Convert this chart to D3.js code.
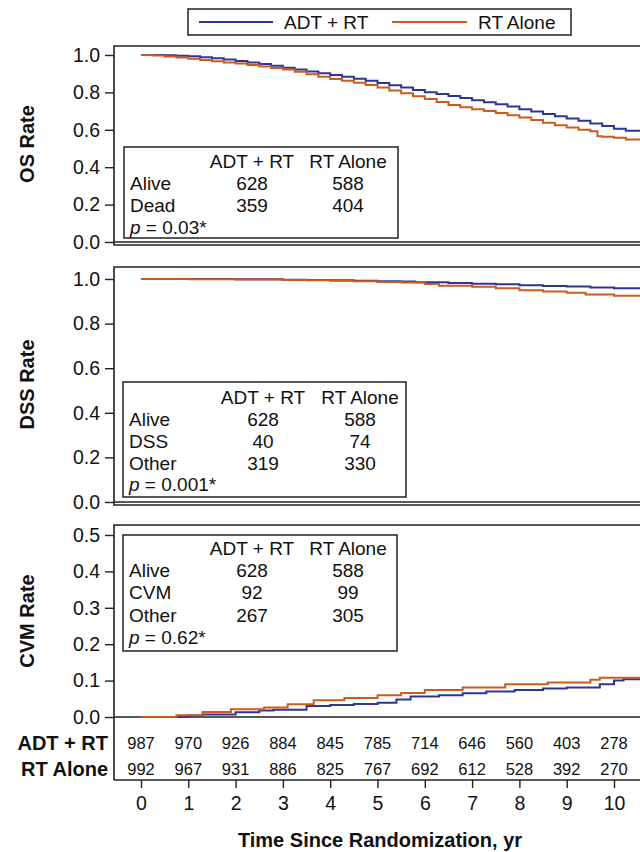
<!DOCTYPE html>
<html><head><meta charset="utf-8">
<script src="https://cdn.jsdelivr.net/npm/d3@7"></script>
<style>body{margin:0;background:#fff}svg{display:block}text{font-family:"Liberation Sans",Arial,sans-serif;fill:#111}</style>
</head><body><svg id="c" width="640" height="852"></svg>
<script>
// ---------- data ----------
const seriesNames = ["ADT + RT", "RT Alone"];
const years = [0,1,2,3,4,5,6,7,8,9,10];
const riskADT = [987,970,926,884,845,785,714,646,560,403,278];
const riskRT  = [992,967,931,886,825,767,692,612,528,392,270];

const osADT = [[0,1],[0.25,1],[0.5,0.998],[0.75,0.996],[1,0.993],[1.25,0.988],[1.5,0.982],[1.75,0.976],[2,0.968],[2.25,0.96],[2.5,0.952],[2.75,0.942],[3,0.932],[3.25,0.922],[3.5,0.912],[3.75,0.903],[4,0.893],[4.25,0.884],[4.5,0.873],[4.75,0.862],[5,0.85],[5.25,0.838],[5.5,0.826],[5.75,0.813],[6,0.801],[6.25,0.791],[6.5,0.781],[6.75,0.77],[7,0.758],[7.25,0.747],[7.5,0.736],[7.75,0.724],[8,0.71],[8.25,0.698],[8.5,0.685],[8.75,0.672],[9,0.66],[9.25,0.648],[9.5,0.634],[9.75,0.62],[10,0.605],[10.25,0.595],[10.6,0.585]];
const osRT = [[0,1],[0.25,0.997],[0.5,0.992],[0.75,0.986],[1,0.98],[1.25,0.973],[1.5,0.966],[1.75,0.96],[2,0.954],[2.25,0.946],[2.5,0.938],[2.75,0.93],[3,0.922],[3.25,0.91],[3.5,0.897],[3.75,0.884],[4,0.872],[4.25,0.862],[4.5,0.852],[4.75,0.84],[5,0.826],[5.25,0.81],[5.5,0.795],[5.75,0.78],[6,0.765],[6.25,0.748],[6.5,0.733],[6.75,0.72],[7,0.71],[7.25,0.7],[7.5,0.69],[7.75,0.678],[8,0.666],[8.25,0.652],[8.5,0.638],[8.75,0.624],[9,0.612],[9.25,0.6],[9.5,0.592],[9.65,0.566],[9.75,0.563],[10,0.558],[10.25,0.548],[10.6,0.537]];

const dssADT = [[0,1],[1,1],[2,0.999],[3,0.997],[3.5,0.995],[4,0.994],[4.5,0.992],[5,0.99],[5.5,0.989],[5.8,0.985],[6.5,0.982],[7,0.979],[7.5,0.976],[8,0.972],[8.5,0.969],[9,0.966],[9.5,0.962],[10,0.958],[10.6,0.955]];
const dssRT  = [[0,1],[1,0.999],[2,0.998],[3,0.996],[3.5,0.994],[4,0.992],[4.5,0.99],[5,0.987],[5.5,0.984],[6,0.978],[6.3,0.97],[7,0.965],[7.5,0.958],[8,0.95],[8.5,0.944],[9,0.938],[9.4,0.93],[10,0.925],[10.6,0.92]];

const cvmADT = [[0,0],[0.6,0],[1,0.004],[1.3,0.007],[2,0.013],[2.5,0.018],[2.8,0.02],[3.5,0.03],[4,0.033],[4.5,0.036],[5,0.039],[5.4,0.048],[5.7,0.056],[6.3,0.06],[6.8,0.065],[7.3,0.07],[7.9,0.074],[8.5,0.078],[9,0.081],[9.7,0.09],[10,0.1],[10.2,0.104],[10.6,0.108]];
const cvmRT  = [[0,0],[0.1,0],[0.75,0.005],[1.3,0.014],[1.9,0.021],[2.6,0.026],[3.1,0.035],[3.65,0.046],[4.3,0.052],[5,0.06],[5.5,0.066],[6,0.074],[6.8,0.081],[7.7,0.09],[8.6,0.095],[9.5,0.102],[9.7,0.108],[10.6,0.111]];

const osRows = ["Alive","Dead"],            osCountADT = [628,359],   osCountRT = [588,404],   osP = "0.03*";
const dssRows = ["Alive","DSS","Other"],    dssCountADT = [628,40,319], dssCountRT = [588,74,330], dssP = "0.001*";
const cvmRows = ["Alive","CVM","Other"],    cvmCountADT = [628,92,267], cvmCountRT = [588,99,305], cvmP = "0.62*";

const osTicks  = [0,0.2,0.4,0.6,0.8,1.0];
const dssTicks = [0,0.2,0.4,0.6,0.8,1.0];
const cvmTicks = [0,0.1,0.2,0.3,0.4,0.5];
const yTitles = ["OS Rate","DSS Rate","CVM Rate"];
const xTitle = "Time Since Randomization, yr";

// ---------- layout ----------
const colors = ["#2f3495", "#cd5b1d"];
const svg = d3.select("#c");
const axisX = 114, rightX = 660;
const x = d3.scaleLinear().domain([0,10]).range([141,614]);

const panels = [
  {top:46,  zero:242, maxV:1.0, maxY:55,  ticks:osTicks,  fmt:d3.format(".1f"), data:[osADT,osRT], title:yTitles[0], frameBottom:245,
   box:{x:124,y:147,w:274,h:91,c1:252,c2:348,head:161,row0:183,step:22.5}, rows:osRows, a:osCountADT, b:osCountRT, p:osP},
  {top:267, zero:502, maxV:1.0, maxY:279, ticks:dssTicks, fmt:d3.format(".1f"), data:[dssADT,dssRT], title:yTitles[1], frameBottom:505,
   box:{x:123,y:382,w:283,h:115,c1:263,c2:360,head:397,row0:419,step:22}, rows:dssRows, a:dssCountADT, b:dssCountRT, p:dssP},
  {top:525, zero:717, maxV:0.5, maxY:535, ticks:cvmTicks, fmt:d3.format(".1f"), data:[cvmADT,cvmRT], title:yTitles[2], frameBottom:null,
   box:{x:123,y:535,w:274,h:116,c1:252,c2:348,head:548,row0:570,step:22.5}, rows:cvmRows, a:cvmCountADT, b:cvmCountRT, p:cvmP}
];

const defs = svg.append("defs");
panels.forEach((P,i)=>{
  const y = d3.scaleLinear().domain([0,P.maxV]).range([P.zero,P.maxY]);
  const g = svg.append("g");
  const bottom = P.frameBottom || 780;
  defs.append("clipPath").attr("id","clip"+i).append("rect")
    .attr("x",axisX).attr("y",P.top).attr("width",rightX-axisX).attr("height",P.zero-P.top+2);
  g.append("path").attr("d",`M${rightX},${P.top}H${axisX}V${bottom}`+(P.frameBottom?`H${rightX}`:""))
    .attr("fill","none").attr("stroke","#222").attr("stroke-width",1.6);
  g.append("line").attr("x1",axisX).attr("x2",rightX).attr("y1",P.zero).attr("y2",P.zero)
    .attr("stroke","#222").attr("stroke-width",1.6);
  const ya = g.append("g").attr("transform",`translate(${axisX},0)`)
    .call(d3.axisLeft(y).tickValues(P.ticks).tickFormat(P.fmt).tickSize(9).tickPadding(5));
  ya.select(".domain").remove();
  ya.selectAll(".tick line").attr("stroke","#222").attr("stroke-width",1.4);
  ya.selectAll(".tick text").attr("font-size",19.5).attr("fill","#111").style("font-family",'"Liberation Sans",Arial,sans-serif');
  g.append("text").attr("transform",`translate(27,${(P.top+P.zero)/2}) rotate(-90)`)
    .attr("text-anchor","middle").attr("dominant-baseline","central")
    .attr("font-size",20).attr("font-weight","bold").text(P.title);
  const line = d3.line().x(d=>x(d[0])).y(d=>y(d[1])).curve(d3.curveStepAfter);
  P.data.forEach((s,k)=>{
    g.append("path").datum(s).attr("d",line).attr("fill","none")
      .attr("stroke",colors[k]).attr("stroke-width",2).attr("clip-path",`url(#clip${i})`);
  });
  const B = P.box;
  g.append("rect").attr("x",B.x).attr("y",B.y).attr("width",B.w).attr("height",B.h)
    .attr("fill","#fff").attr("stroke","#222").attr("stroke-width",1.5);
  const tb = g.append("g").attr("font-size",19);
  tb.append("text").attr("x",B.c1).attr("y",B.head).attr("text-anchor","middle").attr("dominant-baseline","central").text(seriesNames[0]);
  tb.append("text").attr("x",B.c2).attr("y",B.head).attr("text-anchor","middle").attr("dominant-baseline","central").text(seriesNames[1]);
  P.rows.forEach((r,j)=>{
    const yy = B.row0 + j*B.step;
    tb.append("text").attr("x",B.x+6).attr("y",yy).attr("dominant-baseline","central").text(r);
    tb.append("text").attr("x",B.c1).attr("y",yy).attr("text-anchor","middle").attr("dominant-baseline","central").text(P.a[j]);
    tb.append("text").attr("x",B.c2).attr("y",yy).attr("text-anchor","middle").attr("dominant-baseline","central").text(P.b[j]);
  });
  const pt = tb.append("text").attr("x",B.x+6).attr("y",B.row0 + P.rows.length*B.step - 1).attr("dominant-baseline","central");
  pt.append("tspan").attr("font-style","italic").text("p");
  pt.append("tspan").text(" = " + P.p);
});

svg.append("line").attr("x1",axisX).attr("x2",rightX).attr("y1",780).attr("y2",780).attr("stroke","#222").attr("stroke-width",1.6);
const xa = svg.append("g").attr("transform","translate(0,780)")
  .call(d3.axisBottom(x).tickValues(years).tickFormat(d3.format("d")).tickSize(8).tickPadding(8));
xa.select(".domain").remove();
xa.selectAll(".tick line").attr("stroke","#222").attr("stroke-width",1.4);
xa.selectAll(".tick text").attr("font-size",19.5).attr("fill","#111").style("font-family",'"Liberation Sans",Arial,sans-serif');
svg.append("text").attr("x",380).attr("y",840).attr("text-anchor","middle").attr("dominant-baseline","central")
  .attr("font-size",20).attr("font-weight","bold").text(xTitle);

[riskADT, riskRT].forEach((arr,k)=>{
  const yy = k===0 ? 743 : 769;
  svg.append("text").attr("x",108).attr("y",yy).attr("text-anchor","end").attr("dominant-baseline","central")
    .attr("font-size",20).attr("font-weight","bold").text(seriesNames[k]);
  svg.append("g").selectAll("text").data(arr).join("text")
    .attr("x",(d,i)=>x(years[i])).attr("y",yy).attr("text-anchor","middle").attr("dominant-baseline","central")
    .attr("font-size",16.5).text(d=>d);
});

const lg = svg.append("g");
lg.append("rect").attr("x",188).attr("y",9).attr("width",383).attr("height",26).attr("fill","#fff").attr("stroke","#222").attr("stroke-width",1.5);
const legItems = [{x1:199,x2:273,tx:284},{x1:392,x2:467,tx:478}];
legItems.forEach((L,k)=>{
  lg.append("line").attr("x1",L.x1).attr("x2",L.x2).attr("y1",22).attr("y2",22).attr("stroke",colors[k]).attr("stroke-width",2);
  lg.append("text").attr("x",L.tx).attr("y",22).attr("dominant-baseline","central").attr("font-size",19).text(seriesNames[k]);
});
</script></body></html>
